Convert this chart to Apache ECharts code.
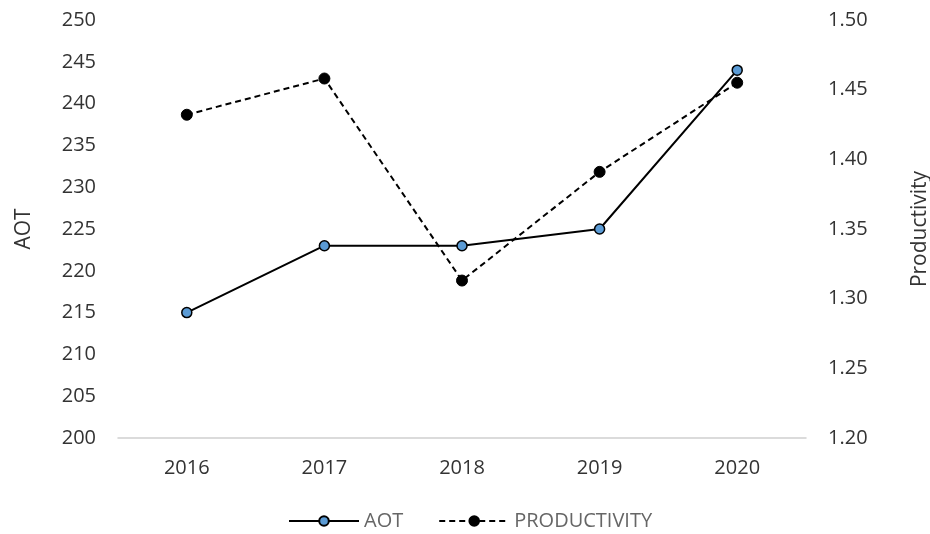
<!DOCTYPE html>
<html>
<head>
<meta charset="utf-8">
<script src="https://cdn.jsdelivr.net/npm/echarts@6/dist/echarts.min.js"></script>
<style>
html,body{margin:0;padding:0;background:#fff;}
#chart{width:930px;height:534px;}
</style>
</head>
<body>
<div id="chart"></div>
<script>
// Yearly AOT and productivity figures
const years = ['2016', '2017', '2018', '2019', '2020'];
const aot = [215, 223, 223, 225, 244];
const productivity = [1.432, 1.458, 1.313, 1.391, 1.455];

const FONT = '"Open Sans", "DejaVu Sans", sans-serif';
const labelColor = '#333333';

const chart = echarts.init(document.getElementById('chart'), null, { renderer: 'canvas' });
chart.setOption({
  animation: false,
  backgroundColor: '#ffffff',
  textStyle: { fontFamily: FONT },
  grid: { left: 118, right: 124, top: 20, bottom: 96, containLabel: false, outerBoundsMode: 'none' },
  legend: {
    top: 511,
    left: 288,
    padding: 0,
    itemWidth: 70,
    itemHeight: 12,
    itemGap: 35,
    textStyle: { color: '#666666', fontSize: 20, fontFamily: FONT },
    data: ['AOT', 'PRODUCTIVITY']
  },
  xAxis: {
    type: 'category',
    data: years,
    boundaryGap: true,
    axisLine: { lineStyle: { color: '#d0d0d0', width: 1.5 } },
    axisTick: { show: false },
    axisLabel: { color: labelColor, fontSize: 20, margin: 20, fontFamily: FONT }
  },
  yAxis: [
    {
      type: 'value',
      name: 'AOT',
      nameLocation: 'middle',
      nameRotate: 90,
      nameGap: 83,
      nameTextStyle: { color: labelColor, fontSize: 21, fontFamily: FONT },
      min: 200, max: 250, interval: 5,
      axisLine: { show: false },
      axisTick: { show: false },
      splitLine: { show: false },
      axisLabel: { color: labelColor, fontSize: 20, margin: 22, fontFamily: FONT }
    },
    {
      type: 'value',
      name: 'Productivity',
      nameLocation: 'middle',
      nameRotate: 90,
      nameGap: 104,
      nameTextStyle: { color: labelColor, fontSize: 21, fontFamily: FONT },
      min: 1.2, max: 1.5, interval: 0.05,
      axisLine: { show: false },
      axisTick: { show: false },
      splitLine: { show: false },
      axisLabel: {
        color: labelColor, fontSize: 20, margin: 22, fontFamily: FONT,
        formatter: v => v.toFixed(2)
      }
    }
  ],
  series: [
    {
      name: 'AOT',
      type: 'line',
      yAxisIndex: 0,
      data: aot,
      symbol: 'circle',
      symbolSize: 10,
      lineStyle: { color: '#000000', width: 2 },
      itemStyle: { color: '#5b9bd5', borderColor: '#000000', borderWidth: 1.5 },
      z: 3
    },
    {
      name: 'PRODUCTIVITY',
      type: 'line',
      yAxisIndex: 1,
      data: productivity,
      symbol: 'circle',
      symbolSize: 11,
      lineStyle: { color: '#000000', width: 2, type: [6, 4] },
      itemStyle: { color: '#000000', borderColor: '#000000', borderWidth: 1 },
      z: 2
    }
  ]
});
</script>
</body>
</html>
